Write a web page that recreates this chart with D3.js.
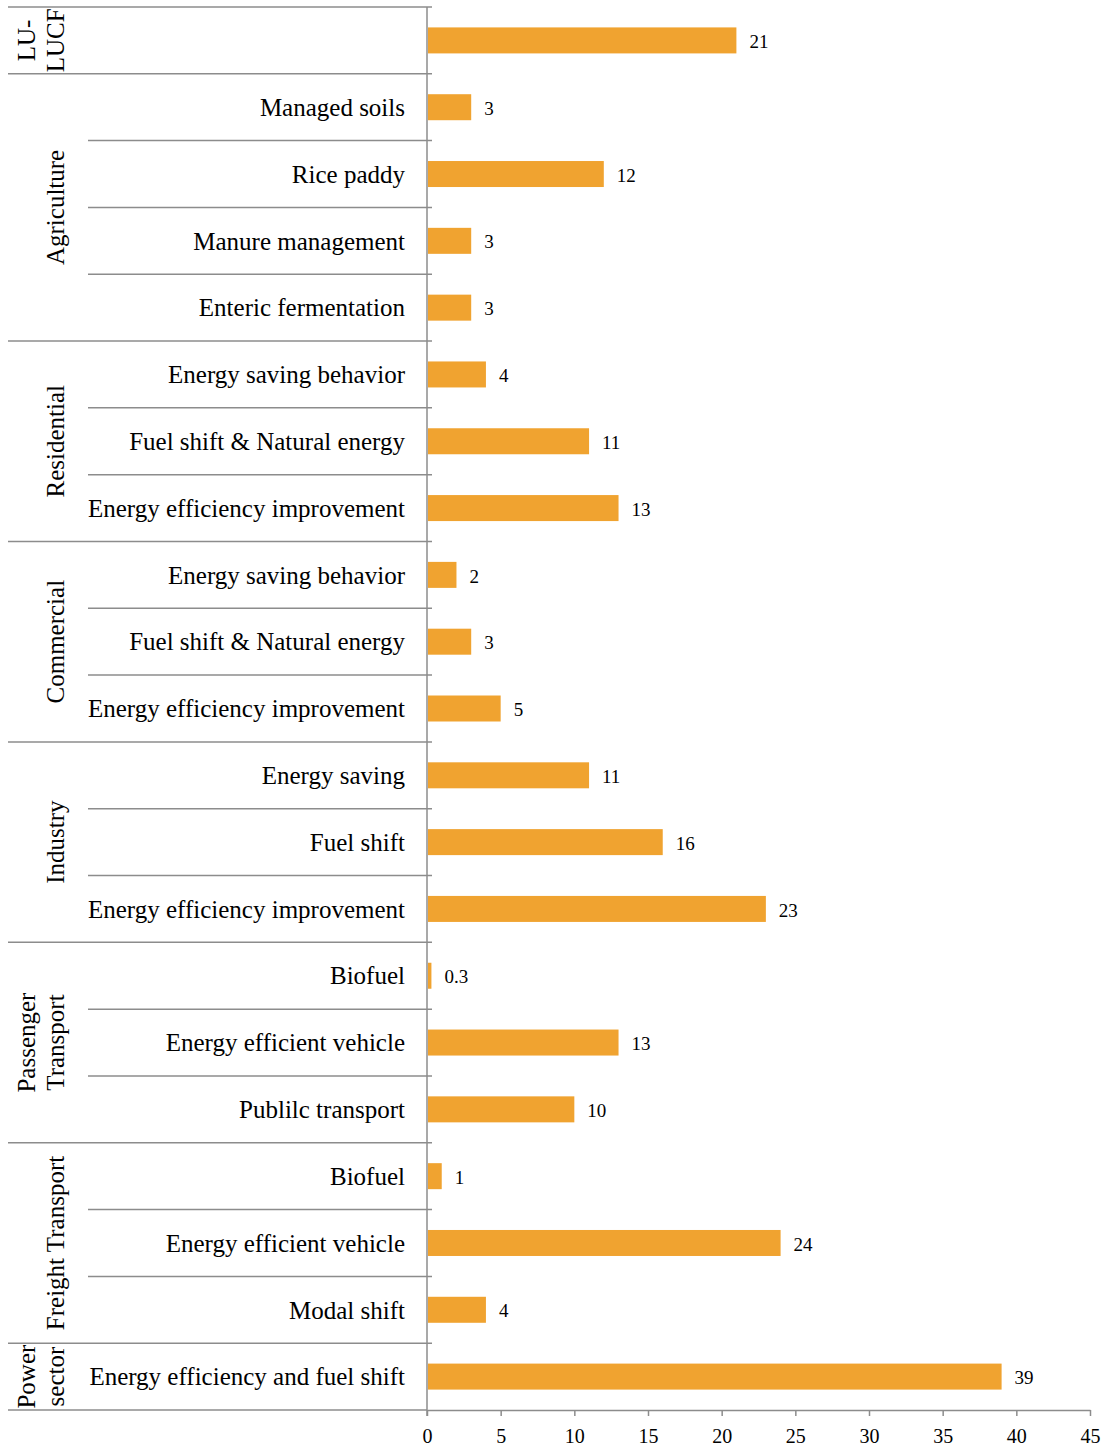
<!DOCTYPE html>
<html>
<head>
<meta charset="utf-8">
<script src="https://cdn.jsdelivr.net/npm/d3@7"></script>
<style>
  html, body { margin: 0; padding: 0; background: #fff; }
  svg { display: block; font-family: "Liberation Serif", "Times New Roman", serif; }
</style>
</head>
<body>
<svg id="chart" width="1110" height="1447"></svg>
<script>
// Sector groups, top to bottom, with the measures inside each
const groups = [
  { name: ["LU-", "LUCF"], measures: [""] },
  { name: ["Agriculture"], measures: ["Managed soils", "Rice paddy", "Manure management", "Enteric fermentation"] },
  { name: ["Residential"], measures: ["Energy saving behavior", "Fuel shift & Natural energy", "Energy efficiency improvement"] },
  { name: ["Commercial"], measures: ["Energy saving behavior", "Fuel shift & Natural energy", "Energy efficiency improvement"] },
  { name: ["Industry"], measures: ["Energy saving", "Fuel shift", "Energy efficiency improvement"] },
  { name: ["Passenger", "Transport"], measures: ["Biofuel", "Energy efficient vehicle", "Publilc transport"] },
  { name: ["Freight Transport"], measures: ["Biofuel", "Energy efficient vehicle", "Modal shift"] },
  { name: ["Power", "sector"], measures: ["Energy efficiency and fuel shift"] }
];

// Reduction per measure, same order as the measures above
const values = [
  [21],
  [3, 12, 3, 3],
  [4, 11, 13],
  [2, 3, 5],
  [11, 16, 23],
  [0.3, 13, 10],
  [1, 24, 4],
  [39]
];

const xTicks = [0, 5, 10, 15, 20, 25, 30, 35, 40, 45];

(function draw() {
  // Flatten into rows
  const rows = [];
  groups.forEach((g, gi) => {
    g.measures.forEach((m, mi) => {
      rows.push({ id: gi + "-" + mi, group: gi, label: m, value: values[gi][mi], first: mi === 0 });
    });
  });

  const svg = d3.select("#chart");
  const plotLeft = 427, plotRight = 1090, plotTop = 7, plotBottom = 1410;
  const groupLeft = 8, measureLeft = 88;
  const lineColor = "#8c8c8c";
  const barColor = "#F0A330";
  const serif = "'Liberation Serif', 'Times New Roman', serif";

  const x = d3.scaleLinear().domain([0, 45]).range([plotLeft, plotRight]);
  const y = d3.scaleBand().domain(rows.map(r => r.id)).range([plotTop, plotBottom]);
  const rowH = y.bandwidth();
  const barH = 26;

  // Row separator lines: full width at group boundaries, indented inside groups
  const grid = svg.append("g");
  rows.forEach(r => {
    const yy = y(r.id);
    grid.append("line")
      .attr("x1", r.first ? groupLeft : measureLeft)
      .attr("x2", plotLeft + 5)
      .attr("y1", yy).attr("y2", yy)
      .attr("stroke", lineColor).attr("stroke-width", 1.5);
  });
  grid.append("line")
    .attr("x1", groupLeft).attr("x2", plotLeft)
    .attr("y1", plotBottom).attr("y2", plotBottom)
    .attr("stroke", lineColor).attr("stroke-width", 1.5);

  // Bars
  svg.append("g").selectAll("rect").data(rows).join("rect")
    .attr("x", x(0) + 1)
    .attr("y", d => y(d.id) + rowH / 2 - barH / 2)
    .attr("width", d => x(d.value) - x(0) - 1)
    .attr("height", barH)
    .attr("fill", barColor);

  // Value labels
  svg.append("g").selectAll("text").data(rows).join("text")
    .attr("x", d => x(d.value) + 13)
    .attr("y", d => y(d.id) + rowH / 2 + 1)
    .attr("dy", "0.35em")
    .attr("font-family", serif)
    .attr("font-size", 19)
    .attr("fill", "#000")
    .text(d => d.value);

  // Measure labels
  svg.append("g").selectAll("text").data(rows).join("text")
    .attr("x", 405)
    .attr("y", d => y(d.id) + rowH / 2)
    .attr("dy", "0.35em")
    .attr("text-anchor", "end")
    .attr("font-family", serif)
    .attr("font-size", 25)
    .attr("fill", "#000")
    .text(d => d.label);

  // Group labels, rotated
  groups.forEach((gr, gi) => {
    const ids = rows.filter(r => r.group === gi).map(r => r.id);
    const y0 = y(ids[0]), y1 = y(ids[ids.length - 1]) + rowH;
    const cy = (y0 + y1) / 2;
    const xs = gr.name.length === 1 ? [55] : [26, 55];
    gr.name.forEach((t, k) => {
      svg.append("text")
        .attr("transform", `translate(${xs[k]},${cy}) rotate(-90)`)
        .attr("text-anchor", "middle")
        .attr("dy", "0.35em")
        .attr("font-family", serif)
        .attr("font-size", 25)
        .attr("fill", "#000")
        .text(t);
    });
  });

  // Value axis
  const xAxis = d3.axisBottom(x).tickValues(xTicks).tickSize(6).tickSizeOuter(0);
  const ax = svg.append("g").attr("transform", `translate(0,${plotBottom})`).call(xAxis);
  ax.select(".domain").attr("stroke", lineColor).attr("stroke-width", 1.5);
  ax.selectAll(".tick line").attr("stroke", lineColor).attr("stroke-width", 1.5);
  ax.selectAll(".tick text")
    .attr("font-family", serif)
    .attr("font-size", 20).attr("fill", "#000").attr("y", 19);

  svg.append("line")
    .attr("x1", plotLeft).attr("x2", plotLeft)
    .attr("y1", plotTop).attr("y2", plotBottom + 6)
    .attr("stroke", lineColor).attr("stroke-width", 1.5);
})();
</script>
</body>
</html>
